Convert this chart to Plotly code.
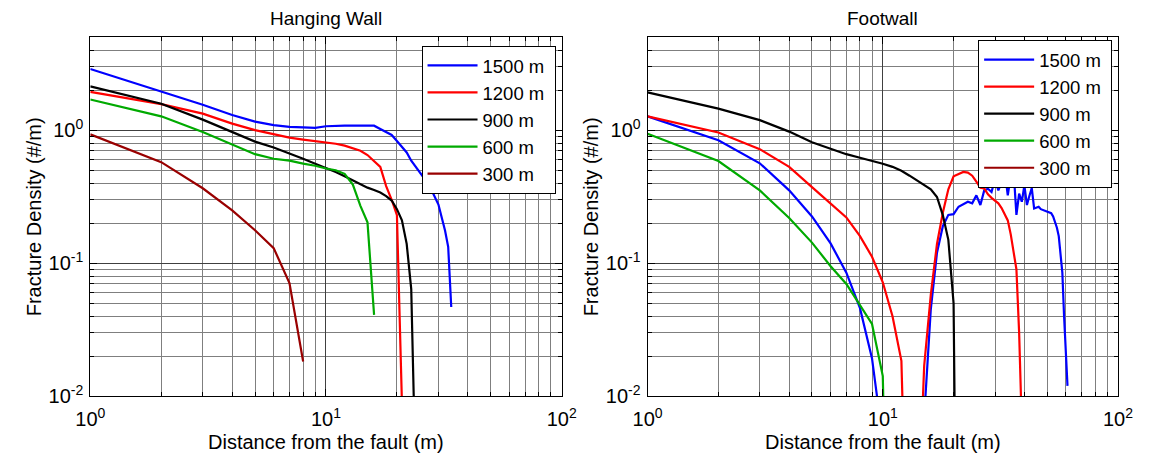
import math
import plotly.graph_objects as go

# ---------------- data ----------------
# Hanging wall
hw_x_1500 = list(range(1, 35))
hw_y_1500 = [2.88, 1.95, 1.55, 1.30, 1.16, 1.09, 1.06, 1.05, 1.04, 1.07, 1.08, 1.08, 1.08, 1.08,
             1.08, 1.08, 1.02, 0.965, 0.92, 0.83, 0.755, 0.68, 0.59, 0.53, 0.485, 0.434, 0.40,
             0.356, 0.31, 0.276, 0.22, 0.176, 0.133, 0.047]
hw_x_1200 = list(range(1, 23))
hw_y_1200 = [1.94, 1.57, 1.33, 1.12, 1.0, 0.93, 0.88, 0.85, 0.83, 0.81, 0.79, 0.765, 0.735, 0.70,
             0.65, 0.59, 0.53, 0.38, 0.30, 0.23, 0.009, 0.0001]
hw_x_900 = list(range(1, 25))
hw_y_900 = [2.13, 1.58, 1.20, 0.97, 0.82, 0.74, 0.67, 0.61, 0.56, 0.52, 0.485, 0.45, 0.42, 0.39,
            0.37, 0.355, 0.34, 0.32, 0.296, 0.255, 0.21, 0.14, 0.064, 0.0025]
hw_x_600 = list(range(1, 17))
hw_y_600 = [1.70, 1.27, 0.97, 0.78, 0.66, 0.61, 0.59, 0.56, 0.54, 0.515, 0.50, 0.47, 0.39, 0.27,
            0.203, 0.041]
hw_x_300 = list(range(1, 9))
hw_y_300 = [0.93, 0.575, 0.366, 0.25, 0.177, 0.13, 0.071, 0.0183]

# Footwall
fw_x_1500 = list(range(1, 62))
fw_y_1500 = [1.27, 0.84, 0.564, 0.353, 0.225, 0.141, 0.085, 0.046, 0.0193, 0.0047,
             0.0001, 0.0001, 0.0001, 0.0001, 0.007, 0.045, 0.12, 0.19, 0.231, 0.234,
             0.266, 0.28, 0.29, 0.282, 0.324, 0.274, 0.353, 0.363, 0.343, 0.43,
             0.353, 0.406, 0.495, 0.324, 0.455, 0.495, 0.231, 0.334, 0.29, 0.384,
             0.274, 0.32, 0.367, 0.258, 0.262, 0.266, 0.255, 0.252, 0.248, 0.245,
             0.241, 0.238, 0.225, 0.206, 0.185, 0.16, 0.12, 0.085, 0.04, 0.02, 0.012]
fw_x_1200 = list(range(1, 40))
fw_y_1200 = [1.27, 0.96, 0.72, 0.53, 0.373, 0.282, 0.221, 0.16, 0.112, 0.072,
             0.04, 0.0185, 0.0001, 0.0008, 0.017, 0.058, 0.14, 0.24, 0.36, 0.45,
             0.47, 0.485, 0.48, 0.455, 0.41, 0.37, 0.365, 0.33, 0.31, 0.295,
             0.282, 0.26, 0.235, 0.21, 0.165, 0.12, 0.09, 0.03, 0.006]
fw_x_900 = list(range(1, 22))
fw_y_900 = [1.92, 1.45, 1.19, 0.975, 0.81, 0.72, 0.66, 0.62, 0.59, 0.56, 0.53, 0.495, 0.455,
            0.42, 0.39, 0.36, 0.315, 0.23, 0.15, 0.05, 0.00001]
fw_x_600 = list(range(1, 12))
fw_y_600 = [0.94, 0.586, 0.353, 0.219, 0.143, 0.095, 0.07, 0.049, 0.035, 0.0142, 0.00001]
# the 300 m footwall series has no visible points (legend entry only)
fw_x_300 = [None]
fw_y_300 = [None]

series_names = ["1500 m", "1200 m", "900 m", "600 m", "300 m"]
series_colors = ["#0000FF", "#FF0000", "#000000", "#00AA00", "#990000"]

x_tick_vals = [1, 10, 100]
x_tick_text = ["10<sup>0</sup>", "10<sup>1</sup>", "10<sup>2</sup>"]
y_tick_vals = [0.01, 0.1, 1]
y_tick_text = ["10<sup>-2</sup>", "10<sup>-1</sup>", "10<sup>0</sup>"]
x_minor_vals = [m * d for d in (1, 10) for m in range(2, 10)]
y_minor_vals = [m * d for d in (0.01, 0.1, 1) for m in range(2, 10) if m * d <= 5]

FONT = "Liberation Sans"

fig = go.Figure()

hw = [(hw_x_1500, hw_y_1500), (hw_x_1200, hw_y_1200), (hw_x_900, hw_y_900),
      (hw_x_600, hw_y_600), (hw_x_300, hw_y_300)]
fw = [(fw_x_1500, fw_y_1500), (fw_x_1200, fw_y_1200), (fw_x_900, fw_y_900),
      (fw_x_600, fw_y_600), (fw_x_300, fw_y_300)]

PAD = "\u00a0"
for (x, y), name, c in zip(hw, series_names, series_colors):
    fig.add_trace(go.Scatter(x=x, y=y, mode="lines", name=name + PAD,
                             line=dict(color=c, width=2.2),
                             xaxis="x", yaxis="y", legend="legend"))
for (x, y), name, c in zip(fw, series_names, series_colors):
    fig.add_trace(go.Scatter(x=x, y=y, mode="lines", name=name + PAD,
                             line=dict(color=c, width=2.2),
                             xaxis="x2", yaxis="y2", legend="legend2"))


def axis(kind, domain, anchor):
    if kind == "x":
        vals, text, mvals, rng = x_tick_vals, x_tick_text, x_minor_vals, [0, 2]
        standoff = 5
    else:
        vals, text, mvals, rng = y_tick_vals, y_tick_text, y_minor_vals, [-2, math.log10(5)]
        standoff = 2
    return dict(type="log", domain=domain, anchor=anchor, range=rng,
                tickmode="array", tickvals=vals, ticktext=text,
                showline=True, linecolor="black", linewidth=1, mirror="ticks",
                ticks="inside", ticklen=7, tickcolor="black", tickwidth=1,
                ticklabelstandoff=standoff,
                showgrid=True, gridcolor="#404040", gridwidth=1, zeroline=False,
                tickfont=dict(size=20, color="black", family=FONT),
                minor=dict(tickmode="array", tickvals=mvals, ticks="inside", ticklen=4,
                           tickcolor="black", showgrid=True, gridcolor="#7f7f7f",
                           gridwidth=1))


W, H = 1151, 466
xd1 = [77.3 / W, 561.3 / W]
xd2 = [649.5 / W, 1132.5 / W]
yd = [(H - 406) / H, (H - 38) / H]

legend_common = dict(bgcolor="white", bordercolor="black", borderwidth=1,
                     font=dict(size=18.5, color="black", family=FONT),
                     xanchor="right", yanchor="top", tracegroupgap=0, itemwidth=50)

annotations = [
    dict(text="Hanging Wall", x=(xd1[0] + xd1[1]) / 2, y=(H - 19) / H),
    dict(text="Footwall", x=(xd2[0] + xd2[1]) / 2, y=(H - 19) / H),
    dict(text="Distance from the fault (m)", x=(xd1[0] + xd1[1]) / 2, y=(H - 453) / H),
    dict(text="Distance from the fault (m)", x=(xd2[0] + xd2[1]) / 2, y=(H - 453) / H),
    dict(text="Fracture Density (#/m)", x=19 / W, y=(H - 222) / H, textangle=-90),
    dict(text="Fracture Density (#/m)", x=591 / W, y=(H - 222) / H, textangle=-90),
]
for a in annotations:
    a.update(xref="paper", yref="paper", showarrow=False, xanchor="center",
             yanchor="middle", font=dict(size=20, color="black", family=FONT))
annotations[0]["font"]["size"] = 19
annotations[1]["font"]["size"] = 19

fig.update_layout(
    width=W, height=H, autosize=False,
    margin=dict(l=0, r=0, t=0, b=0),
    paper_bgcolor="white", plot_bgcolor="white",
    font=dict(family=FONT, color="black"),
    xaxis=axis("x", xd1, "y"),
    yaxis=axis("y", yd, "x"),
    xaxis2=axis("x", xd2, "y2"),
    yaxis2=axis("y", yd, "x2"),
    legend=dict(x=555 / W, y=(H - 47) / H, **legend_common),
    legend2=dict(x=1126.5 / W, y=(H - 41) / H, **legend_common),
    annotations=annotations,
    showlegend=True,
)

fig.write_html("out.html")
